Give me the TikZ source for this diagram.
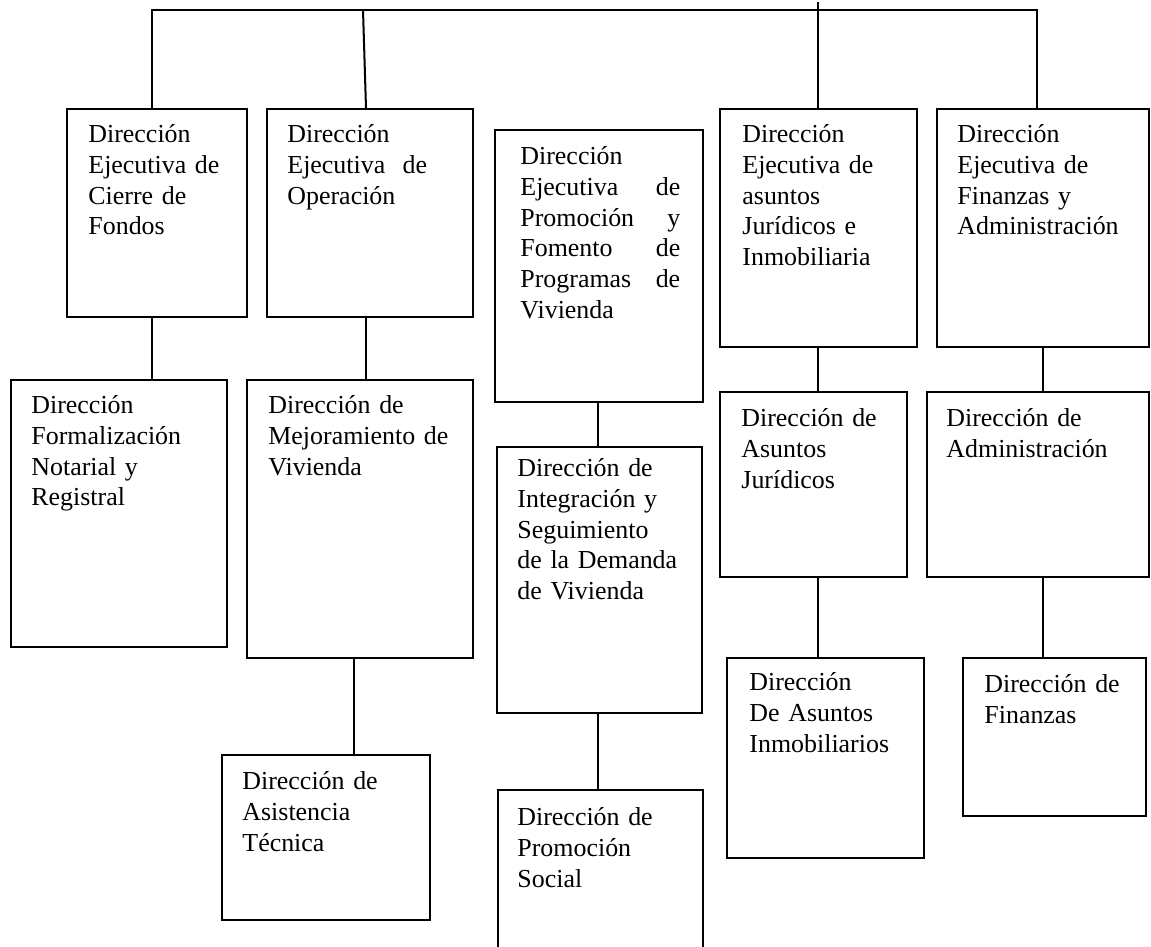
\documentclass[tikz,border=0pt]{standalone}
\usepackage{fontspec}
\setmainfont{Liberation Serif}
\tikzset{
  bx/.style={draw, line width=0.93pt, inner sep=0pt, anchor=north west},
  tx/.style={anchor=north west, inner sep=0pt, align=left, text width=115pt,
             font=\fontsize{12}{14.2}\selectfont},
  ln/.style={line width=0.93pt}
}
\newcommand{\mkbox}[5]{\node[bx, minimum width=#4*0.463pt, minimum height=#5*0.463pt] (#1) at (#2,#3) {};}
\begin{document}
\begin{tikzpicture}[x=0.463pt,y=-0.463pt]
\useasboundingbox (0,0) rectangle (1151,947);
\clip (0,0) rectangle (1151,947);
% boxes
\mkbox{a1}{66}{108}{180}{208}
\mkbox{a2}{266}{108}{206}{208}
\mkbox{a3}{494}{129}{208}{272}
\mkbox{a4}{719}{108}{197}{238}
\mkbox{a5}{936}{108}{212}{238}
\mkbox{b1}{10}{379}{216}{267}
\mkbox{b2}{246}{379}{226}{278}
\mkbox{b3}{496}{446}{205}{266}
\mkbox{b4}{719}{391}{187}{185}
\mkbox{b5}{926}{391}{222}{185}
\mkbox{c2}{221}{754}{208}{165}
\mkbox{c3}{497}{789}{205}{175}
\mkbox{c4}{726}{657}{197}{200}
\mkbox{c5}{962}{657}{183}{158}
% texts
\node[tx] (a1t) at (88,121) {\strut Dirección\\Ejecutiva de\\Cierre de\\Fondos};
\node[tx] (a2t) at (287,121) {\strut Dirección\\Ejecutiva~ de\\Operación};
\node[tx, text width=74pt] (a3t) at (520,143) {\strut Dirección\\Ejecutiva\hfill de\\Promoción\hfill y\\Fomento\hfill de\\Programas\hfill de\\Vivienda};
\node[tx] (a4t) at (742,121) {\strut Dirección\\Ejecutiva de\\asuntos\\Jurídicos e\\Inmobiliaria};
\node[tx] (a5t) at (957,121) {\strut Dirección\\Ejecutiva de\\Finanzas y\\Administración};
\node[tx] (b1t) at (31,392) {\strut Dirección\\Formalización\\Notarial y\\Registral};
\node[tx] (b2t) at (268,392) {\strut Dirección de\\Mejoramiento de\\Vivienda};
\node[tx] (b3t) at (517,455) {\strut Dirección de\\Integración y\\Seguimiento\\de la Demanda\\de Vivienda};
\node[tx] (b4t) at (741,405) {\strut Dirección de\\Asuntos\\Jurídicos};
\node[tx] (b5t) at (946,405) {\strut Dirección de\\Administración};
\node[tx] (c2t) at (242,768) {\strut Dirección de\\Asistencia\\Técnica};
\node[tx] (c3t) at (517,804) {\strut Dirección de\\Promoción\\Social};
\node[tx] (c4t) at (749,669) {\strut Dirección\\De Asuntos\\Inmobiliarios};
\node[tx] (c5t) at (984,671) {\strut Dirección de\\Finanzas};
% connector guide coordinates
\coordinate (bus) at (0,10);
\coordinate (top) at (0,2);
\coordinate (k1) at (152,0);
\coordinate (k2t) at (363,0);
\coordinate (k2) at (366,0);
\coordinate (kc2) at (354,0);
\coordinate (k3) at (598,0);
\coordinate (k4) at (818,0);
\coordinate (k5t) at (1037,0);
\coordinate (k5) at (1043,0);
% top bus
\draw[ln] (a1.north -| k1) -- (k1 |- bus) -- (k5t |- bus) -- (a5.north -| k5t);
\draw[ln] (k2t |- bus) -- (a2.north -| k2);
\draw[ln] (k4 |- top) -- (a4.north -| k4);
% vertical connectors
\draw[ln] (a1.south -| k1) -- (b1.north -| k1);
\draw[ln] (a2.south -| k2) -- (b2.north -| k2);
\draw[ln] (b2.south -| kc2) -- (c2.north -| kc2);
\draw[ln] (a3.south -| k3) -- (b3.north -| k3);
\draw[ln] (b3.south -| k3) -- (c3.north -| k3);
\draw[ln] (a4.south -| k4) -- (b4.north -| k4);
\draw[ln] (b4.south -| k4) -- (c4.north -| k4);
\draw[ln] (a5.south -| k5) -- (b5.north -| k5);
\draw[ln] (b5.south -| k5) -- (c5.north -| k5);
\end{tikzpicture}
\end{document}
